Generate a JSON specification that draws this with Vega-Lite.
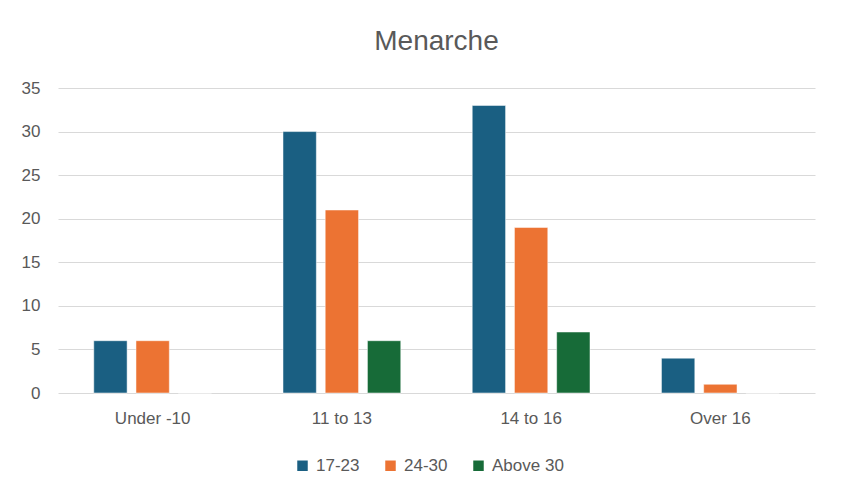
{
  "$schema": "https://vega.github.io/schema/vega-lite/v6.json",
  "autosize": {"type": "none"},
  "width": 757,
  "height": 305,
  "padding": {"left": 58, "top": 88, "right": 27, "bottom": 110},
  "background": "white",
  "title": {
    "text": "Menarche",
    "fontSize": 28,
    "font": "Liberation Sans",
    "fontWeight": "normal",
    "color": "#595959",
    "anchor": "middle",
    "offset": 23
  },
  "data": {
    "values": [
      {"category": "Under -10", "group": "17-23", "value": 6},
      {"category": "Under -10", "group": "24-30", "value": 6},
      {"category": "Under -10", "group": "Above 30", "value": 0},
      {"category": "11 to 13", "group": "17-23", "value": 30},
      {"category": "11 to 13", "group": "24-30", "value": 21},
      {"category": "11 to 13", "group": "Above 30", "value": 6},
      {"category": "14 to 16", "group": "17-23", "value": 33},
      {"category": "14 to 16", "group": "24-30", "value": 19},
      {"category": "14 to 16", "group": "Above 30", "value": 7},
      {"category": "Over 16", "group": "17-23", "value": 4},
      {"category": "Over 16", "group": "24-30", "value": 1},
      {"category": "Over 16", "group": "Above 30", "value": 0}
    ]
  },
  "mark": {"type": "bar", "stroke": "white", "strokeWidth": 0.5},
  "encoding": {
    "x": {
      "field": "category",
      "type": "nominal",
      "sort": ["Under -10", "11 to 13", "14 to 16", "Over 16"],
      "scale": {"paddingInner": 0.333, "paddingOuter": 0.1667},
      "axis": {
        "title": null,
        "labelAngle": 0,
        "domain": false,
        "ticks": false,
        "labelFontSize": 17,
        "labelFont": "Liberation Sans",
        "labelColor": "#595959",
        "labelPadding": 17
      }
    },
    "xOffset": {
      "field": "group",
      "type": "nominal",
      "sort": ["17-23", "24-30", "Above 30"],
      "scale": {"paddingInner": 0.21, "paddingOuter": 0.1}
    },
    "y": {
      "field": "value",
      "type": "quantitative",
      "scale": {"domain": [0, 35], "nice": false},
      "axis": {
        "title": null,
        "values": [0, 5, 10, 15, 20, 25, 30, 35],
        "domain": false,
        "ticks": false,
        "gridColor": "#d9d9d9",
        "gridWidth": 1,
        "labelFontSize": 17,
        "labelFont": "Liberation Sans",
        "labelColor": "#595959",
        "labelPadding": 18
      }
    },
    "color": {
      "field": "group",
      "type": "nominal",
      "sort": ["17-23", "24-30", "Above 30"],
      "scale": {"domain": ["17-23", "24-30", "Above 30"], "range": ["#1a5f82", "#ec7333", "#176b38"]},
      "legend": {
        "title": null,
        "orient": "none",
        "legendX": 236,
        "legendY": 369,
        "direction": "horizontal",
        "symbolType": "square",
        "symbolSize": 110,
        "symbolStrokeWidth": 0,
        "labelFontSize": 17,
        "labelFont": "Liberation Sans",
        "labelColor": "#595959",
        "columnPadding": 22,
        "labelOffset": 5
      }
    }
  },
  "config": {
    "view": {"stroke": null}
  }
}
